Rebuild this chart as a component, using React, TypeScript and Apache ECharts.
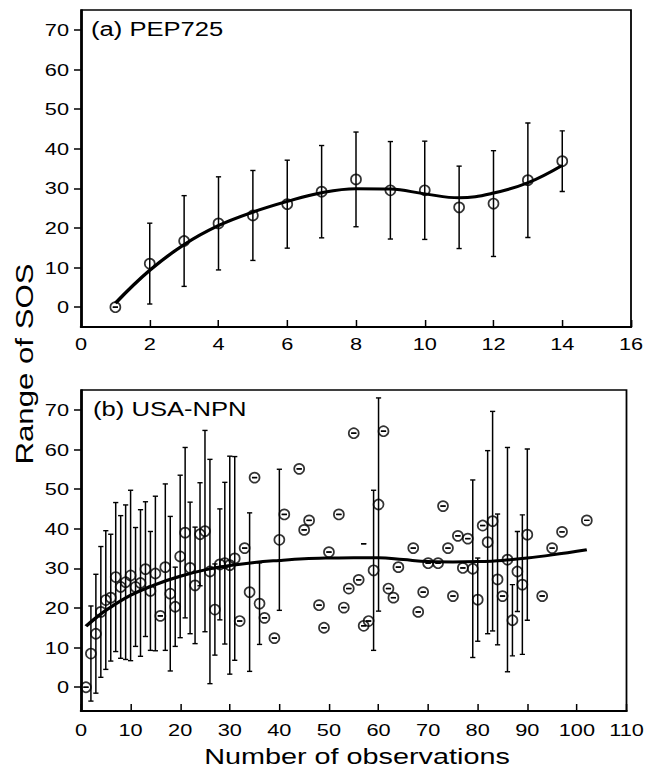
import React, { useEffect, useRef } from "react";
import * as echarts from "echarts";

// ---------- data: panel (a) PEP725 ----------
const aN = [1, 2, 3, 4, 5, 6, 7, 8, 9, 10, 11, 12, 13, 14];
const aMean = [0, 11.0, 16.7, 21.15, 23.15, 26.0, 29.15, 32.25, 29.5, 29.5, 25.2, 26.15, 32.05, 36.85];
const aSd = [0, 10.2, 11.45, 11.75, 11.35, 11.1, 11.65, 11.95, 12.3, 12.4, 10.4, 13.35, 14.45, 7.65];
const aFitX = [1, 2, 3, 4, 5, 6, 7, 8, 9, 10, 11, 12, 13, 14];
const aFitY = [1.0, 9.3, 15.8, 20.6, 24.0, 26.7, 28.9, 29.9, 29.8, 28.6, 27.6, 28.8, 31.4, 35.8];

// ---------- data: panel (b) USA-NPN ----------
const bN = [
  1, 2, 3, 4, 5, 6, 7, 8, 9, 10, 11, 12, 13, 14, 15, 16, 17, 18, 19, 20,
  21, 22, 23, 24, 25, 26, 27, 28, 29, 30, 31, 32, 33, 34, 35, 36, 37, 39, 40, 41,
  44, 45, 46, 48, 49, 50, 52, 53, 54, 55, 56, 57, 58, 59, 60, 61, 62, 63, 64, 67,
  68, 69, 70, 72, 73, 74, 75, 76, 77, 78, 79, 80, 81, 82, 83, 84, 85, 86, 87, 88,
  89, 90, 93, 95, 97, 102,
];
const bMean = [
  0, 8.5, 13.5, 19.0, 22.0, 22.6, 27.8, 25.3, 26.5, 28.2, 25.3, 26.3, 29.8, 24.3, 28.7, 18.0, 30.3, 23.6, 20.3, 33.0,
  39.0, 30.1, 25.7, 38.6, 39.4, 29.2, 19.6, 31.0, 31.3, 30.8, 32.5, 16.7, 35.1, 24.0, 52.9, 21.1, 17.5, 12.4, 37.2, 43.6,
  55.1, 39.7, 42.1, 20.7, 15.0, 34.1, 43.6, 20.1, 24.9, 64.1, 27.1, 15.5, 16.7, 29.5, 46.1, 64.6, 24.9, 22.6, 30.3, 35.1,
  19.0, 24.0, 31.3, 31.3, 45.7, 35.1, 23.0, 38.2, 30.1, 37.5, 29.9, 22.1, 40.8, 36.6, 41.9, 27.2, 23.0, 32.2, 16.9, 29.2,
  25.9, 38.5, 23.0, 35.1, 39.2, 42.1,
];
const bSd = [
  0, 12, 15, 16.5, 17.5, 16, 18.8, 18, 19.5, 21.5, 15, 18.5, 17, 15, 19.5, 0, 21, 19.5, 10, 20.5,
  21.5, 16.6, 14.7, 13, 25.4, 28.3, 11.5, 14, 20.4, 27.5, 25.7, 0, 0, 20, 0, 10.3, 0, 0, 17.8, 0,
  0, 0, 0, 0, 0, 0, 0, 0, 0, 0, 0, 0, 0, 20.2, 26.9, 0, 0, 0, 0, 0,
  0, 0, 0, 0, 0, 0, 0, 0, 0, 0, 22.4, 10.5, 0, 23.1, 27.7, 16.5, 0, 28.3, 9.0, 10.1,
  17.6, 21.6, 0, 0, 0, 0,
];
const bFitX = [1, 3, 5, 10, 15, 20, 25, 30, 35, 40, 45, 50, 55, 60, 65, 70, 75, 80, 85, 90, 95, 102];
const bFitY = [15.4, 17.5, 19.4, 23.2, 25.9, 28.0, 29.6, 30.7, 31.5, 32.0, 32.4, 32.6, 32.7, 32.7, 32.2, 31.7, 31.6, 31.7, 32.0, 32.6, 33.4, 34.7];
const bStrayX = [57];
const bStrayY = [36.2];

const yTicks = [0, 10, 20, 30, 40, 50, 60, 70];

// ---------- layout helpers ----------
const SX = 1.28; // horizontal stretch of the whole figure (wide glyphs in the reference)
const W = 648 / SX;
const H = 770;
const sx = (v: number) => v / SX;
const FONT = "'Liberation Sans', Arial, sans-serif";

function errRender(_params: any, api: any) {
  const x = api.value(0);
  const lo = api.value(1);
  const hi = api.value(2);
  const t = api.coord([x, hi]);
  const b = api.coord([x, lo]);
  const cap = 2.6 / SX;
  const st = { stroke: "#000", lineWidth: 1.4 };
  return {
    type: "group",
    children: [
      { type: "line", shape: { x1: t[0], y1: t[1], x2: b[0], y2: b[1] }, style: { stroke: "#000", lineWidth: 1.5 / SX } },
      { type: "line", shape: { x1: t[0] - cap, y1: t[1], x2: t[0] + cap, y2: t[1] }, style: st },
      { type: "line", shape: { x1: b[0] - cap, y1: b[1], x2: b[0] + cap, y2: b[1] }, style: st },
    ],
  };
}

function xAxis(gridIndex: number, max: number, interval: number, margin: number) {
  return {
    type: "value",
    gridIndex,
    min: 0,
    max,
    interval,
    axisLine: { show: true, onZero: false, lineStyle: { color: "#000", width: 2 } },
    axisTick: { show: true, inside: true, length: 7, lineStyle: { color: "#000", width: 1.5 / SX } },
    axisLabel: { color: "#000", fontSize: 17, fontFamily: FONT, margin, showMinLabel: true, showMaxLabel: true },
    splitLine: { show: false },
  };
}

function yAxis(gridIndex: number, min: number) {
  return {
    type: "value",
    gridIndex,
    min,
    max: 75,
    axisLine: { show: true, onZero: false, lineStyle: { color: "#000", width: 2 / SX } },
    axisTick: { show: true, inside: false, length: 7 / SX, customValues: yTicks, lineStyle: { color: "#000", width: 1.5 } },
    axisLabel: { customValues: yTicks, color: "#000", fontSize: 17, fontFamily: FONT, margin: 12 / SX },
    splitLine: { show: false },
  };
}

export default function App() {
  const ref = useRef<HTMLDivElement>(null);

  useEffect(() => {
    if (!ref.current) return;
    const chart = echarts.init(ref.current, undefined, { renderer: "svg" });
    const circle = {
      symbol: "circle",
      symbolSize: [10 / SX, 10],
      itemStyle: { color: "rgba(0,0,0,0)", borderColor: "#000", borderWidth: 1.5 },
    };
    const option: any = {
      animation: false,
      backgroundColor: "#fff",
      grid: [
        { left: sx(81), top: 10, width: sx(550), height: 317, show: true, borderColor: "#000", borderWidth: 1.4, backgroundColor: "rgba(0,0,0,0)" },
        { left: sx(81), top: 390, width: sx(550), height: 321, show: true, borderColor: "#000", borderWidth: 1.4, backgroundColor: "rgba(0,0,0,0)" },
      ],
      xAxis: [xAxis(0, 16, 2, 8), xAxis(1, 110, 10, 10)],
      yAxis: [yAxis(0, -5), yAxis(1, -6)],
      series: [
        {
          type: "custom",
          xAxisIndex: 0,
          yAxisIndex: 0,
          renderItem: errRender,
          encode: { x: 0, y: [1, 2] },
          data: aN.map((n, i) => [n, aMean[i] - aSd[i], aMean[i] + aSd[i]]),
          z: 5,
        },
        { type: "scatter", xAxisIndex: 0, yAxisIndex: 0, data: aN.map((n, i) => [n, aMean[i]]), ...circle, z: 3 },
        {
          type: "line",
          xAxisIndex: 0,
          yAxisIndex: 0,
          data: aFitX.map((x, i) => [x, aFitY[i]]),
          smooth: 0.4,
          symbol: "none",
          showSymbol: false,
          lineStyle: { color: "#000", width: 3 },
          z: 4,
        },
        {
          type: "custom",
          xAxisIndex: 1,
          yAxisIndex: 1,
          renderItem: errRender,
          encode: { x: 0, y: [1, 2] },
          data: bN.map((n, i) => [n, bMean[i] - bSd[i], bMean[i] + bSd[i]]),
          z: 5,
        },
        {
          type: "custom",
          xAxisIndex: 1,
          yAxisIndex: 1,
          renderItem: errRender,
          encode: { x: 0, y: [1, 2] },
          data: bStrayX.map((x, i) => [x, bStrayY[i], bStrayY[i]]),
          z: 5,
        },
        { type: "scatter", xAxisIndex: 1, yAxisIndex: 1, data: bN.map((n, i) => [n, bMean[i]]), ...circle, z: 3 },
        {
          type: "line",
          xAxisIndex: 1,
          yAxisIndex: 1,
          data: bFitX.map((x, i) => [x, bFitY[i]]),
          smooth: 0.4,
          symbol: "none",
          showSymbol: false,
          lineStyle: { color: "#000", width: 3 },
          z: 4,
        },
      ],
      graphic: [
        {
          type: "text",
          x: sx(91),
          y: 29,
          style: { text: "(a) PEP725", fill: "#000", fontSize: 20, fontFamily: FONT, textAlign: "left", verticalAlign: "middle", textVerticalAlign: "middle" },
        },
        {
          type: "text",
          x: sx(93),
          y: 409,
          style: { text: "(b) USA-NPN", fill: "#000", fontSize: 20, fontFamily: FONT, textAlign: "left", verticalAlign: "middle", textVerticalAlign: "middle" },
        },
        {
          type: "text",
          x: sx(357),
          y: 756,
          style: { text: "Number of observations", fill: "#000", fontSize: 22.5, fontFamily: FONT, textAlign: "center", verticalAlign: "middle", textVerticalAlign: "middle" },
        },
        {
          type: "text",
          x: sx(24.5),
          y: 364,
          rotation: Math.PI / 2,
          scaleX: 1.3,
          scaleY: 1 / SX,
          style: { text: "Range of SOS", fill: "#000", fontSize: 24, fontFamily: FONT, textAlign: "center", verticalAlign: "middle", textVerticalAlign: "middle" },
        },
      ],
    };
    chart.setOption(option);
    return () => chart.dispose();
  }, []);

  return (
    <div style={{ position: "absolute", left: 0, top: 0, width: 648, height: H, background: "#fff", overflow: "hidden" }}>
      <div ref={ref} style={{ width: W, height: H, transform: `scaleX(${SX})`, transformOrigin: "0 0" }} />
    </div>
  );
}
